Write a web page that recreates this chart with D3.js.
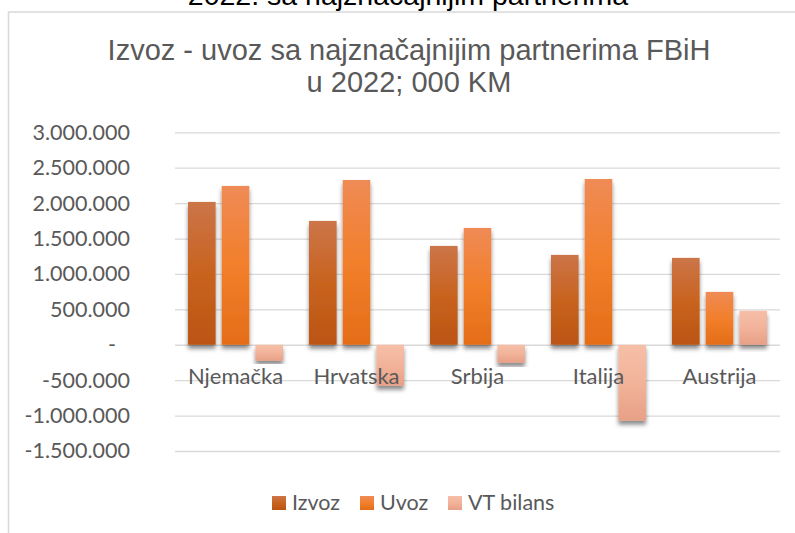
<!DOCTYPE html>
<html>
<head>
<meta charset="utf-8">
<script src="https://cdn.jsdelivr.net/npm/d3@7"></script>
<style>
  body { margin: 0; background: #fff; }
  svg { display: block; }
</style>
</head>
<body>
<div id="chart"></div>
<script>
const countries = ['Njemačka', 'Hrvatska', 'Srbija', 'Italija', 'Austrija'];
const izvoz = [2017000, 1749000, 1396000, 1269000, 1227000];
const uvoz = [2243000, 2327000, 1650000, 2341000, 747000];
const vtBilans = [-226000, -578000, -254000, -1072000, 480000];
const seriesNames = ['Izvoz', 'Uvoz', 'VT bilans'];
const yTicks = [-1500000, -1000000, -500000, 0, 500000, 1000000, 1500000, 2000000, 2500000, 3000000];

const W = 795, H = 533;
const margin = { left: 175, right: 15, top: 132, bottom: 82 };
const labelFont = 'Lato, Carlito, Calibri, sans-serif';

const svg = d3.select('#chart').append('svg')
    .attr('width', W)
    .attr('height', H);

const defs = svg.append('defs');

const gradStops = [
    ['#cc7549', '#c8631f', '#bb5412'],
    ['#ef8b56', '#f27f2b', '#e46d18'],
    ['#f6bfa8', '#f2b39a', '#e7a086']
];
gradStops.forEach((s, i) => {
    const g = defs.append('linearGradient')
        .attr('id', 'grad' + i)
        .attr('x1', 0).attr('y1', 0).attr('x2', 0).attr('y2', 1);
    g.append('stop').attr('offset', '0%').attr('stop-color', s[0]);
    g.append('stop').attr('offset', '50%').attr('stop-color', s[1]);
    g.append('stop').attr('offset', '100%').attr('stop-color', s[2]);
});

const shadow = defs.append('filter')
    .attr('id', 'shadow')
    .attr('x', '-20%').attr('y', '-20%')
    .attr('width', '140%').attr('height', '140%');
shadow.append('feDropShadow')
    .attr('dx', 0).attr('dy', 4)
    .attr('stdDeviation', 2.2)
    .attr('flood-color', '#000')
    .attr('flood-opacity', 0.45);

// chart area frame (only partly visible)
svg.append('rect')
    .attr('x', 8.5).attr('y', 12)
    .attr('width', 830).attr('height', 560)
    .attr('fill', 'none')
    .attr('stroke', '#d9d9d9')
    .attr('stroke-width', 1.5);

// heading of the page above, mostly cut off
svg.append('text')
    .attr('x', 408).attr('y', 5)
    .attr('text-anchor', 'middle')
    .style('font-family', 'Liberation Sans, Arial, sans-serif')
    .style('font-size', '28.5px')
    .style('fill', '#000')
    .text('2022. sa najznačajnijim partnerima');

const title = svg.append('text')
    .attr('text-anchor', 'middle')
    .style('font-family', 'Liberation Sans, Arial, sans-serif')
    .style('font-size', '29px')
    .style('fill', '#595959');
title.append('tspan').attr('x', 409).attr('y', 60).text('Izvoz - uvoz sa najznačajnijim partnerima FBiH');
title.append('tspan').attr('x', 409).attr('y', 92).text('u 2022; 000 KM');

const x0 = d3.scaleBand()
    .domain(countries)
    .range([margin.left, W - margin.right])
    .paddingInner(0)
    .paddingOuter(0);

const x1 = d3.scaleBand()
    .domain(seriesNames)
    .range([13, x0.bandwidth() - 13])
    .paddingInner(0.18);

const y = d3.scaleLinear()
    .domain([-1500000, 3000000])
    .range([451, 132.3]);

const fmt = v => v === 0 ? '-' : d3.format(',')(v).replace(/,/g, '.').replace('\u2212', '-');

const yAxis = svg.append('g')
    .attr('transform', `translate(${margin.left},0)`)
    .call(d3.axisLeft(y).tickValues(yTicks).tickSize(-(W - margin.right - margin.left)).tickFormat(fmt));
yAxis.select('.domain').remove();
yAxis.selectAll('.tick line')
    .attr('stroke', '#d9d9d9')
    .attr('stroke-width', 1.3);
yAxis.selectAll('.tick text')
    .attr('x', -45)
    .style('font-family', labelFont)
    .style('font-size', '21.5px')
    .style('fill', '#595959');
yAxis.selectAll('.tick text').filter(d => d === 0).attr('x', -59);

const data = countries.map((c, i) => ({ country: c, values: [izvoz[i], uvoz[i], vtBilans[i]] }));

const groups = svg.selectAll('.grp')
    .data(data)
    .enter().append('g')
    .attr('class', 'grp')
    .attr('transform', d => `translate(${x0(d.country)},0)`);

groups.selectAll('rect')
    .data(d => d.values.map((v, i) => ({ v, i })))
    .enter().append('rect')
    .attr('x', d => x1(seriesNames[d.i]))
    .attr('width', x1.bandwidth())
    .attr('y', d => y(Math.max(0, d.v)))
    .attr('height', d => Math.abs(y(d.v) - y(0)))
    .attr('fill', d => `url(#grad${d.i})`)
    .attr('filter', 'url(#shadow)');

// category labels
svg.append('g').selectAll('text')
    .data(countries)
    .enter().append('text')
    .attr('x', d => x0(d) + x0.bandwidth() / 2)
    .attr('y', 384)
    .attr('text-anchor', 'middle')
    .style('font-family', labelFont)
    .style('font-size', '22px')
    .style('fill', '#595959')
    .text(d => d);

// legend
const legendX = [272, 360, 448];
const legend = svg.append('g').selectAll('g')
    .data(seriesNames)
    .enter().append('g')
    .attr('transform', (d, i) => `translate(${legendX[i]},496)`);
legend.append('rect')
    .attr('width', 14).attr('height', 14)
    .attr('fill', (d, i) => `url(#grad${i})`);
legend.append('text')
    .attr('x', 20).attr('y', 14)
    .style('font-family', labelFont)
    .style('font-size', '21.5px')
    .style('fill', '#595959')
    .text(d => d);
</script>
</body>
</html>
